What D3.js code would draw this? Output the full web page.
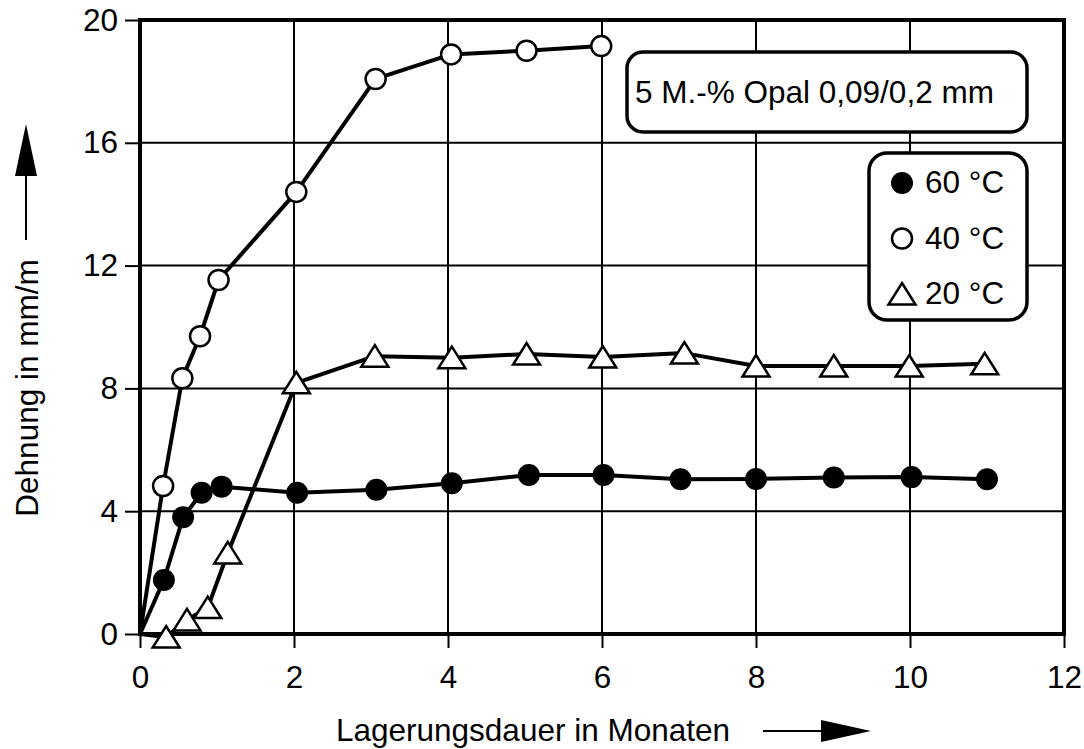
<!DOCTYPE html>
<html>
<head>
<meta charset="utf-8">
<script src="https://cdn.jsdelivr.net/npm/d3@7"></script>
<style>
  html, body { margin: 0; padding: 0; background: #fff; }
  svg { display: block; font-family: "Liberation Sans", Arial, sans-serif; }
</style>
</head>
<body>
<div id="chart"></div>
<script>
// values (months / mm/m)
var months60 = [0, 0.31, 0.56, 0.8, 1.06, 2.04, 3.07, 4.05, 5.05, 6.02, 7.02, 8.0, 9.01, 10.02, 11.0];
var dehnung60 = [0, 1.76, 3.8, 4.6, 4.8, 4.6, 4.7, 4.91, 5.18, 5.18, 5.04, 5.05, 5.1, 5.11, 5.04];

var months40 = [0, 0.3, 0.55, 0.78, 1.02, 2.03, 3.06, 4.04, 5.02, 5.99];
var dehnung40 = [0, 4.82, 8.33, 9.7, 11.53, 14.4, 18.08, 18.88, 19.0, 19.15];

var months20 = [0, 0.34, 0.61, 0.88, 1.14, 2.03, 3.05, 4.05, 5.02, 6.01, 7.07, 8.0, 9.01, 9.99, 10.97];
var dehnung20 = [0, -0.1, 0.46, 0.86, 2.64, 8.18, 9.05, 9.0, 9.12, 9.02, 9.15, 8.73, 8.73, 8.73, 8.8];

var xTicks = [0, 2, 4, 6, 8, 10, 12];
var yTicks = [0, 4, 8, 12, 16, 20];
var legendLabels = ["60 °C", "40 °C", "20 °C"];
var noteText = "5 M.-% Opal 0,09/0,2 mm";

var width = 1084, height = 749;
var fontSize = 31.5;

var svg = d3.select("#chart").append("svg")
    .attr("width", width)
    .attr("height", height);

var x = d3.scaleLinear().domain([0, 12]).range([140, 1064]);
var y = d3.scaleLinear().domain([0, 20]).range([634, 20]);

// grid
svg.append("g").selectAll("line.vg").data(xTicks.slice(1, -1)).enter().append("line")
    .attr("x1", function(d){ return x(d); }).attr("x2", function(d){ return x(d); })
    .attr("y1", y(0)).attr("y2", y(20))
    .attr("stroke", "#000").attr("stroke-width", 2);
svg.append("g").selectAll("line.hg").data(yTicks.slice(1, -1)).enter().append("line")
    .attr("x1", x(0)).attr("x2", x(12))
    .attr("y1", function(d){ return y(d); }).attr("y2", function(d){ return y(d); })
    .attr("stroke", "#000").attr("stroke-width", 2);

// axes (ticks and labels)
var xAxis = d3.axisBottom(x).tickValues(xTicks).tickSize(14).tickPadding(18);
var xg = svg.append("g").attr("transform", "translate(0," + y(0) + ")").call(xAxis);
var yAxis = d3.axisLeft(y).tickValues(yTicks).tickSize(15).tickPadding(7);
var yg = svg.append("g").attr("transform", "translate(" + x(0) + ",0)").call(yAxis);
[xg, yg].forEach(function(g){
    g.select(".domain").remove();
    g.selectAll(".tick line").attr("stroke", "#000").attr("stroke-width", 2);
    g.selectAll("text").attr("fill", "#000")
        .style("font-size", fontSize + "px")
        .style("font-family", "'Liberation Sans', Arial, sans-serif");
});

// frame
svg.append("rect")
    .attr("x", x(0)).attr("y", y(20))
    .attr("width", x(12) - x(0)).attr("height", y(0) - y(20))
    .attr("fill", "none").attr("stroke", "#000").attr("stroke-width", 4);

// axis titles with arrows
svg.append("text")
    .attr("x", 533).attr("y", 741)
    .attr("text-anchor", "middle")
    .style("font-size", fontSize + "px")
    .text("Lagerungsdauer in Monaten");
svg.append("line").attr("x1", 763).attr("x2", 826).attr("y1", 731).attr("y2", 731)
    .attr("stroke", "#000").attr("stroke-width", 2);
svg.append("path").attr("d", "M821,720 L871,731 L821,742 Z").attr("fill", "#000");

svg.append("text")
    .attr("transform", "translate(38,388) rotate(-90)")
    .attr("text-anchor", "middle")
    .style("font-size", fontSize + "px")
    .text("Dehnung in mm/m");
svg.append("line").attr("x1", 26).attr("x2", 26).attr("y1", 240).attr("y2", 170)
    .attr("stroke", "#000").attr("stroke-width", 2);
svg.append("path").attr("d", "M15,176 L26,124 L37,176 Z").attr("fill", "#000");

// series
var line = d3.line().x(function(d){ return x(d[0]); }).y(function(d){ return y(d[1]); });
var series = [
    {pts: d3.zip(months60, dehnung60), marker: "filled"},
    {pts: d3.zip(months40, dehnung40), marker: "open"},
    {pts: d3.zip(months20, dehnung20), marker: "triangle"}
];
series.forEach(function(s){
    svg.append("path").datum(s.pts).attr("d", line)
        .attr("fill", "none").attr("stroke", "#000")
        .attr("stroke-width", 4).attr("stroke-linejoin", "round");
});

var triPath = "M0,-11 L13.5,10.5 L-13.5,10.5 Z";
var drawMarker = function(g, kind, cx, cy){
    if (kind === "filled") {
        g.append("circle").attr("cx", cx).attr("cy", cy).attr("r", 11).attr("fill", "#000");
    } else if (kind === "open") {
        g.append("circle").attr("cx", cx).attr("cy", cy).attr("r", 10)
            .attr("fill", "#fff").attr("stroke", "#000").attr("stroke-width", 2.5);
    } else {
        g.append("path").attr("d", triPath)
            .attr("transform", "translate(" + cx + "," + cy + ")")
            .attr("fill", "#fff").attr("stroke", "#000").attr("stroke-width", 2.5)
            .attr("stroke-linejoin", "miter");
    }
};
series.forEach(function(s){
    var g = svg.append("g");
    s.pts.slice(1).forEach(function(p){
        drawMarker(g, s.marker, x(p[0]), y(p[1]));
    });
});

// note box
svg.append("rect")
    .attr("x", 627).attr("y", 52).attr("width", 400).attr("height", 80)
    .attr("rx", 16).attr("ry", 16)
    .attr("fill", "#fff").attr("stroke", "#000").attr("stroke-width", 3.5);
svg.append("text")
    .attr("x", 635).attr("y", 103)
    .style("font-size", fontSize + "px")
    .text(noteText);

// legend
svg.append("rect")
    .attr("x", 869).attr("y", 153).attr("width", 158).attr("height", 167)
    .attr("rx", 18).attr("ry", 18)
    .attr("fill", "#fff").attr("stroke", "#000").attr("stroke-width", 3.5);
var legendKinds = ["filled", "open", "triangle"];
var lg = svg.append("g");
legendLabels.forEach(function(label, i){
    var base = 193 + i * 55.5;
    drawMarker(lg, legendKinds[i], 902, base - 10);
    lg.append("text").attr("x", 925).attr("y", base)
        .style("font-size", fontSize + "px")
        .text(label);
});
</script>
</body>
</html>
